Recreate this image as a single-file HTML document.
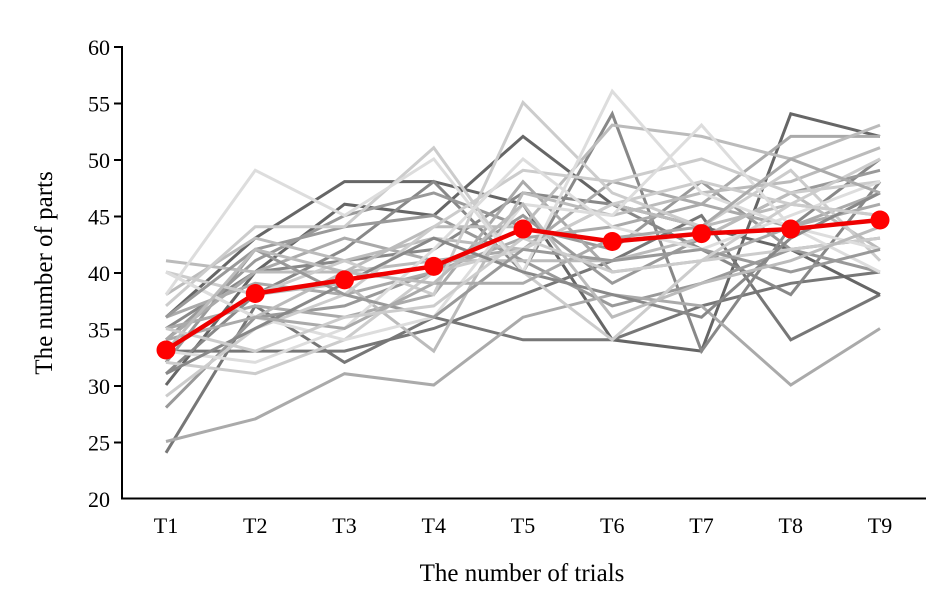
<!DOCTYPE html>
<html><head><style>body{margin:0;background:#fff} .tk{font-size:22px;font-family:"Liberation Serif",serif}</style></head><body>
<svg id="s" width="946" height="611" xmlns="http://www.w3.org/2000/svg" font-family="Liberation Serif, serif">
<g id="g"></g>
<line x1="122" y1="46" x2="122" y2="499" stroke="#000" stroke-width="2"/>
<line x1="121" y1="498.5" x2="926" y2="498.5" stroke="#000" stroke-width="2"/>
<g stroke="#000" stroke-width="2">
<line x1="114" x2="122" y1="47" y2="47"/><line x1="114" x2="122" y1="103.5" y2="103.5"/><line x1="114" x2="122" y1="160" y2="160"/><line x1="114" x2="122" y1="216.5" y2="216.5"/><line x1="114" x2="122" y1="273" y2="273"/><line x1="114" x2="122" y1="329.5" y2="329.5"/><line x1="114" x2="122" y1="386" y2="386"/><line x1="114" x2="122" y1="442.5" y2="442.5"/>
</g>
<g class="tk" text-anchor="end">
<text x="110" y="55">60</text><text x="110" y="111.5">55</text><text x="110" y="168">50</text><text x="110" y="224.5">45</text><text x="110" y="281">40</text><text x="110" y="337.5">35</text><text x="110" y="394">30</text><text x="110" y="450.5">25</text><text x="110" y="507">20</text>
</g>
<g class="tk" text-anchor="middle">
<text x="166" y="533">T1</text><text x="255.25" y="533">T2</text><text x="344.5" y="533">T3</text><text x="433.75" y="533">T4</text><text x="523" y="533">T5</text><text x="612.25" y="533">T6</text><text x="701.5" y="533">T7</text><text x="790.75" y="533">T8</text><text x="880" y="533">T9</text>
</g>
<text x="522" y="581" style="font-size:25px" text-anchor="middle">The number of trials</text>
<text transform="translate(52,273) rotate(-90)" style="font-size:25px" text-anchor="middle">The number of parts</text>
</svg>
<script>
const X=i=>166+i*89.25, Y=v=>498-(v-20)*11.3;
const data=[
["#666",[36,43,48,48,46,34,33,54,52]],
["#777",[33,33,33,35,38,41,45,34,38]],
["#777",[24,37,32,36,34,34,37,39,40]],
["#666",[30,40,46,45,52,46,44,42,38]],
["#888",[35,40,41,42,47,46,42,38,48]],
["#888",[31,38,42,48,40,54,33,44,50]],
["#999",[32,42,44,45,41,37,39,42,43]],
["#999",[34,41,45,47,44,42,48,42,40]],
["#999",[28,36,37,40,45,39,43,47,49]],
["#aaa",[25,27,31,30,36,38,37,30,35]],
["#aaa",[36,39,38,40,43,44,46,44,47]],
["#aaa",[34,40,43,41,42,48,46,52,52]],
["#aaa",[35,37,36,38,48,40,41,44,46]],
["#bbb",[40,36,40,44,44,53,52,50,53]],
["#bbb",[33,38,39,33,47,45,47,48,51]],
["#bbb",[38,43,41,43,42,46,44,46,45]],
["#bbb",[41,40,40,41,41,41,43,47,42]],
["#ccc",[40,38,41,38,55,47,44,49,41]],
["#ccc",[32,31,34,40,42,46,48,46,50]],
["#ccc",[37,44,44,51,40,34,41,42,43]],
["#ccc",[29,35,38,44,49,48,50,47,48]],
["#ddd",[38,49,45,50,40,56,47,44,42]],
["#ddd",[40,36,34,36,46,45,53,44,40]],
["#ddd",[33,32,35,42,50,44,42,45,48]],
["#999",[36,42,38,36,42,41,42,40,42]],
["#888",[31,35,39,43,40,38,36,43,47]],
["#aaa",[34,36,35,39,39,43,44,50,47]],
["#bbb",[33,42,40,39,46,36,39,41,44]],
["#ccc",[35,33,36,37,43,40,41,46,45]],
];
let h='';
for(const [c,v] of data)h+=`<polyline fill="none" stroke="${c}" stroke-width="3" points="${v.map((a,i)=>X(i)+','+Y(a)).join(' ')}"/>`;
const r=[33.1,38.1,39.3,40.5,43.8,42.7,43.4,43.8,44.6];
h+=`<polyline fill="none" stroke="#e00" stroke-width="4.5" points="${r.map((a,i)=>X(i)+','+Y(a)).join(' ')}"/>`;
r.forEach((a,i)=>h+=`<circle cx="${X(i)}" cy="${Y(a)}" r="9.5" fill="#f00"/>`);
document.getElementById('g').innerHTML=h;
</script>
</body></html>
